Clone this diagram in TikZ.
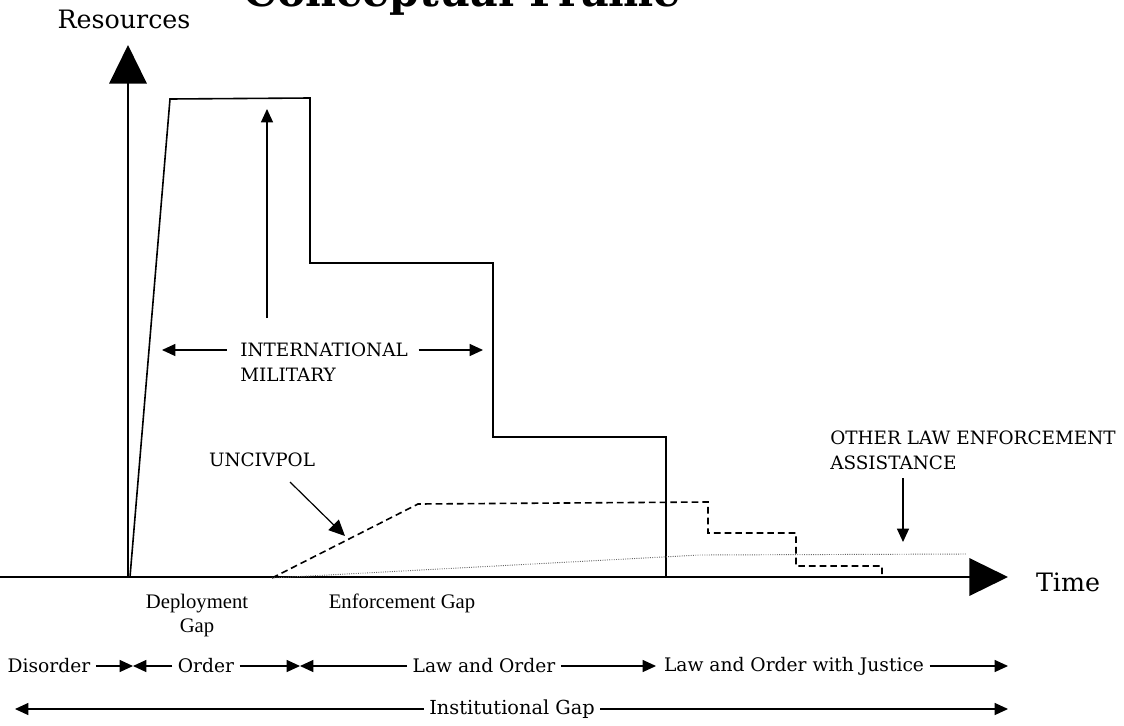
\documentclass[tikz,border=0pt]{standalone}
\usepackage{fontspec}
\setmainfont{DejaVu Serif}
\newfontfamily\timesf{Liberation Serif}
\usetikzlibrary{arrows.meta}

\tikzset{
  axis/.style={line width=1.8pt,-{Triangle[length=29pt,width=28pt]}},
  mil/.style={line width=1.2pt,line join=miter},
  civ/.style={line width=1.2pt,dash pattern=on 5pt off 3pt},
  other/.style={line width=0.7pt,black!60,densely dotted},
  arr/.style={line width=0.9pt,-{Triangle[length=10pt,width=9pt]}},
  caps/.style={font=\fontsize{13.8}{19}\selectfont,inner sep=0pt},
  row/.style={font=\fontsize{14}{17}\selectfont,inner xsep=4pt,inner ysep=0pt},
  gap/.style={font=\timesf\fontsize{15.5}{18}\selectfont,align=center,inner sep=0pt}
}

\begin{document}
\begin{tikzpicture}[x=0.75pt,y=-0.75pt]
  \useasboundingbox (0,0) rectangle (1124,725);
  \clip (0,0) rectangle (1124,725);

  % axes
  \coordinate (O)  at (128,577);
  \coordinate (yt) at (128,45);
  \coordinate (xl) at (0,577);
  \coordinate (xt) at (1008,577);
  \draw[axis] (O) -- (yt);
  \draw[axis] (xl) -- (xt);

  \node[anchor=base west,font=\bfseries\fontsize{32}{38}\selectfont,inner sep=0pt] (title) at (243,6) {Conceptual Frame};
  \node[font=\fontsize{19}{22}\selectfont,inner sep=0pt] (res)  at (124,19)  {Resources};
  \node[font=\fontsize{19}{22}\selectfont,inner sep=0pt] (time) at (1068,582) {Time};

  % international military
  \draw[mil] (130,577) -- (170,99) -- (310,98) -- (310,263) -- (493,263)
    -- (493,437) -- (666,437) -- (666,577);

  % uncivpol and other assistance
  \draw[civ] (272,578) -- (418,504) -- (708,502) -- (708,533) -- (796,533)
    -- (796,566) -- (882,566) -- (882,574);
  \draw[other] (272,578) -- (700,555) -- (966,554);

  \begin{scope}[every node/.style={caps}]
    \node[anchor=west] (intl) at (240,350) {INTERNATIONAL};
    \node[anchor=west] (mily) at (240,375) {MILITARY};
    \node (unc) at (262,460) {UNCIVPOL};
    \node[anchor=west,align=left] (olea) at (830,450) {OTHER LAW ENFORCEMENT\\ASSISTANCE};
  \end{scope}

  \coordinate (mL)  at (162,350);
  \coordinate (mR)  at (483,350);
  \coordinate (upb) at (267,318);
  \coordinate (upt) at (267,109);
  \coordinate (ucs) at (290,482);
  \coordinate (uct) at (345,536);
  \coordinate (ols) at (903,478);
  \coordinate (olt) at (903,542);
  \draw[arr] ([xshift=-10pt]intl.west) -- (mL);
  \draw[arr] ([xshift=8pt]intl.east) -- (mR);
  \draw[arr] (upb) -- (upt);
  \draw[arr,-{Triangle[length=12pt,width=11pt]}] (ucs) -- (uct);
  \draw[arr] (ols) -- (olt);

  % gaps under the axis
  \node[gap] (dgap) at (197,616) {Deployment\\Gap};
  \node[gap] (egap) at (402,603) {Enforcement Gap};

  % phases
  \begin{scope}[every node/.style={row}]
    \node (dis) at (49,666)  {Disorder};
    \node (ord) at (206,666) {Order};
    \node (lao) at (484,666) {Law and Order};
    \node (loj) at (794,666) {Law and Order with Justice};
    \node[font=\fontsize{14.5}{17}\selectfont] (ig) at (512,709) {Institutional Gap};
  \end{scope}

  \coordinate (p1) at (133,666);
  \coordinate (p2) at (300,666);
  \coordinate (p3) at (656,666);
  \coordinate (p4) at (1008,666);
  \coordinate (q1) at (15,709);
  \coordinate (q2) at (1008,709);
  \draw[arr] (dis) -- (p1);
  \draw[arr] (ord) -- (p1);
  \draw[arr] (ord) -- (p2);
  \draw[arr] (lao) -- (p2);
  \draw[arr] (lao) -- (p3);
  \draw[arr] (loj) -- (p4);
  \draw[arr] (ig) -- (q1);
  \draw[arr] (ig) -- (q2);

\end{tikzpicture}
\end{document}
